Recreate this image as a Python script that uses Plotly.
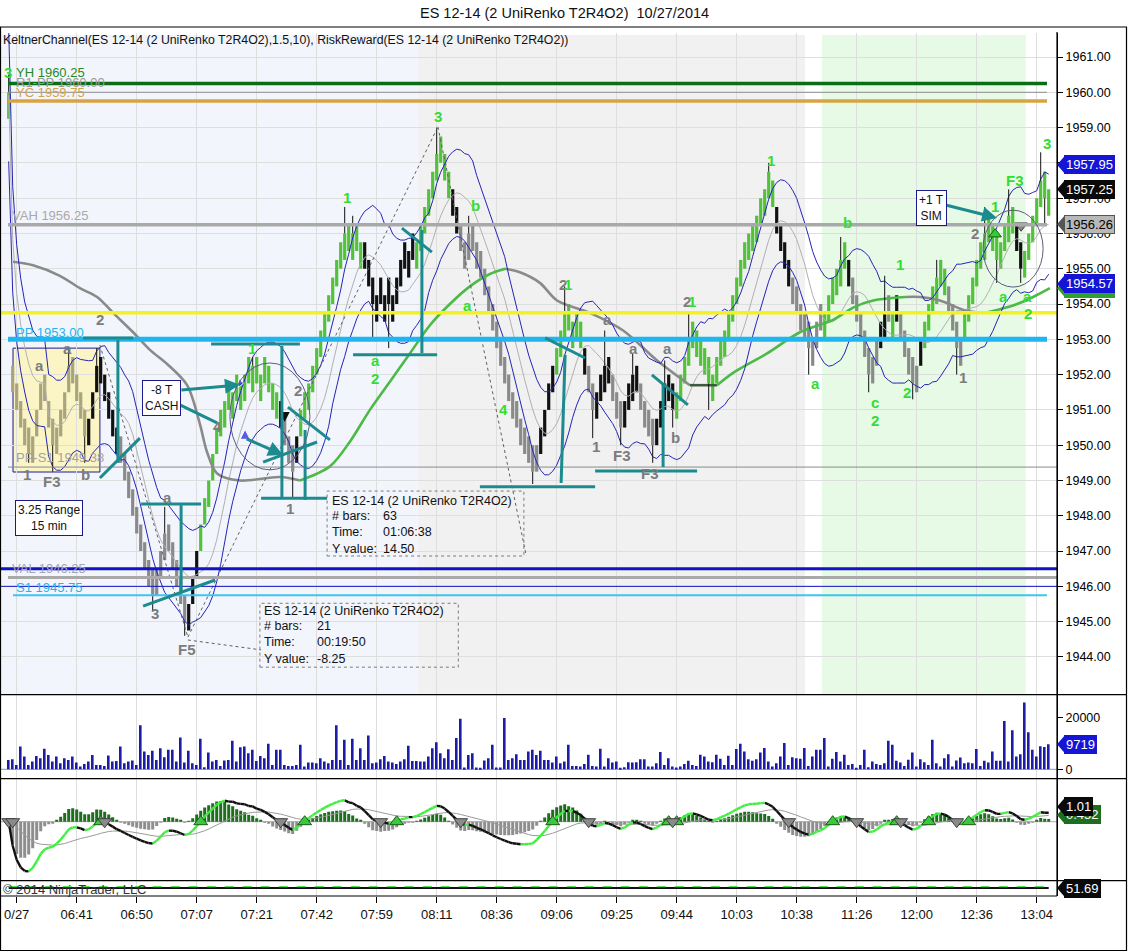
import numpy as np
import pandas as pd
import plotly.graph_objects as go

# ======================= DATA =======================
closes = [
    1960.0,
    1951.5, 1951.0, 1950.5, 1950.0, 1949.75, 1950.25, 1951.0, 1951.75, 1951.25, 1950.5, 1950.0,
    1950.5, 1951.0, 1951.5, 1952.25, 1951.75, 1951.25, 1950.75, 1950.25, 1950.75, 1951.5, 1952.25,
    1951.75, 1951.25, 1950.75, 1950.25, 1949.75,
    1949.5, 1949.0, 1948.5, 1948.0, 1947.5, 1947.0, 1946.5, 1946.0, 1945.75, 1946.5, 1947.0,
    1947.5, 1947.0, 1946.5, 1946.0, 1945.5, 1945.0,
    1945.5, 1946.25, 1947.0, 1947.75, 1948.5, 1949.0, 1949.75, 1950.5, 1951.0,
    1951.25, 1951.0, 1951.5, 1951.25, 1951.75, 1952.0, 1951.75, 1952.25, 1951.75, 1952.0, 1951.75,
    1951.5, 1951.0, 1950.75,
    1950.5, 1950.0, 1949.5, 1949.25, 1950.25,
    1951.0, 1951.5, 1951.75, 1952.25, 1952.75, 1953.25, 1953.75, 1954.25, 1954.75, 1955.25, 1955.75,
    1956.0, 1955.5, 1956.0, 1955.5, 1955.75,
    1955.0, 1954.5, 1954.0, 1954.25, 1954.0, 1954.25, 1954.0, 1954.25, 1954.75, 1955.25, 1955.0,
    1955.5, 1955.25,
    1955.75, 1956.25, 1956.75, 1957.25, 1957.75, 1958.25, 1958.0, 1957.5, 1957.0,
    1956.5, 1956.0,
    1955.5, 1955.75, 1956.0, 1955.5, 1955.0, 1954.75, 1954.25, 1953.75, 1953.25, 1952.75, 1952.25,
    1951.75, 1951.25, 1950.75, 1950.5, 1950.0, 1949.75, 1949.5, 1949.25, 1950.0,
    1950.5, 1951.0, 1951.75, 1952.25,
    1952.75, 1953.25, 1953.75, 1953.25, 1953.5, 1953.0, 1952.75,
    1952.0,
    1951.5, 1951.0,
    1951.5, 1952.0, 1952.25, 1951.75,
    1951.25, 1950.75, 1950.5,
    1951.25, 1951.75, 1952.0, 1951.5,
    1951.0, 1950.5, 1950.25, 1950.0,
    1950.75, 1951.25, 1951.75, 1951.25, 1951.0,
    1951.5, 1952.0, 1952.5, 1953.0, 1952.75, 1952.5, 1952.25, 1952.0, 1951.75, 1952.0, 1952.5,
    1953.0, 1953.25, 1953.75, 1954.25, 1954.75, 1955.25, 1955.75, 1956.0, 1956.25, 1956.5, 1957.0,
    1957.25, 1957.0, 1956.75,
    1956.0, 1955.5, 1955.0, 1954.5,
    1954.0, 1953.75, 1953.25, 1953.0, 1952.75, 1953.0, 1953.5, 1953.25,
    1953.75, 1954.25, 1954.75, 1955.0, 1955.25, 1955.0,
    1954.5,
    1954.0, 1953.5, 1953.0, 1952.5, 1952.0, 1952.5, 1953.0,
    1953.5, 1953.75,
    1953.5,
    1953.75,
    1953.5,
    1953.0, 1952.5, 1952.0, 1951.75, 1952.25,
    1953.0,
    1953.5, 1954.0, 1954.5, 1954.75, 1954.5, 1954.25,
    1953.75, 1953.25, 1952.75, 1953.0,
    1953.75, 1954.25, 1954.75, 1955.25, 1955.75, 1956.0, 1955.75, 1955.5, 1955.25, 1955.75, 1956.25,
    1956.5, 1956.0,
    1955.5, 1955.0,
    1955.5, 1956.0, 1956.5, 1957.0, 1957.5, 1957.0, 1957.25,
]

# paint-bar state of each bar, as runs: g=green, o=olive (inside range box), k=black, s=gray
bar_state_runs = [
    ("g", 1), ("o", 19), ("k", 8), ("s", 17), ("k", 3), ("g", 20), ("k", 1), ("s", 3), ("k", 1),
    ("g", 16), ("k", 13), ("g", 9), ("k", 2), ("s", 20), ("k", 4), ("g", 7), ("k", 1), ("s", 2),
    ("k", 4), ("s", 3), ("k", 4), ("s", 4), ("k", 5), ("g", 25), ("k", 4), ("s", 8), ("g", 6),
    ("k", 1), ("s", 7), ("k", 2), ("s", 1), ("g", 1), ("k", 1), ("s", 5), ("k", 1), ("g", 6),
    ("s", 4), ("g", 13), ("k", 2), ("g", 7),
]

wick_high = {0: 1960.5, 15: 1952.75, 22: 1952.75, 39: 1948.25, 61: 1952.5, 84: 1956.75, 86: 1956.5,
             107: 1959.0, 115: 1956.5, 139: 1954.5, 149: 1953.25, 156: 1952.6, 164: 1952.4,
             170: 1953.8, 190: 1958.0, 208: 1955.9, 219: 1954.8, 232: 1955.25, 244: 1956.75,
             250: 1957.25, 258: 1958.3}
wick_low = {5: 1949.5, 11: 1949.25, 19: 1949.5, 36: 1945.3, 44: 1944.6, 71: 1948.5, 91: 1953.0,
            95: 1952.75, 131: 1948.9, 146: 1950.2, 153: 1950.0, 161: 1949.5, 166: 1950.5,
            175: 1951.0, 200: 1952.0, 215: 1951.5, 226: 1951.3, 237: 1952.0, 247: 1954.6,
            253: 1954.6, 259: 1956.25}

volumes = [
    3640, 3900, 1690, 8840, 4940, 1690, 2990, 5200, 4290, 7930,
    5590, 2990, 4940, 2340, 4290, 3640, 4940, 2600, 1040, 2080,
    2990, 5590, 1690, 1690, 1300, 5330, 2990, 3250, 8840, 2340,
    2990, 3380, 1690, 17030, 6890, 5590, 7150, 3640, 8190, 4680,
    7540, 7540, 2990, 12350, 2600, 7150, 2340, 1690, 11830, 780,
    6500, 2990, 3640, 1300, 3380, 3640, 11050, 2990, 8580, 8840,
    6240, 7540, 3250, 5200, 4290, 9880, 1690, 7540, 7540, 1690,
    1300, 1300, 1690, 9490, 1040, 2600, 2600, 2340, 4290, 2990,
    2340, 3640, 17030, 3640, 11440, 1690, 11830, 3640, 8190, 3640,
    13130, 2340, 2600, 3900, 5200, 2990, 2600, 2080, 2990, 3900,
    9100, 3250, 3250, 2990, 2990, 4940, 8190, 10530, 6240, 4290,
    7800, 3640, 12090, 19630, 650, 5590, 6240, 650, 390, 3380,
    4290, 9490, 650, 650, 19890, 3640, 4290, 5850, 3640, 3640,
    6890, 7540, 5590, 7150, 3640, 3640, 2600,
    4970, 2350, 3010, 9540, 1310, 1310, 1050, 2090, 5620, 1310,
    1050, 7970, 1050, 4310, 2610, 3010, 390, 780, 2740, 2610,
    2740, 3920, 3920, 1050, 1050, 2350, 6670, 1700, 4310, 1050,
    650, 1050, 2090, 3270, 1700, 1310, 5620, 4970, 3010, 2740,
    5620, 4050, 1700, 5230, 1700, 7840, 9930, 6930, 3920, 3270,
    3920, 6540, 8230, 3010, 1050, 2350, 4970, 10190, 1700, 4710,
    4310, 4050, 8230, 1310, 4970, 7580, 7580, 12160, 1050, 4050,
    6670, 3010, 5620, 1700, 2090, 390, 1700, 7580, 780, 3010,
    2090, 1700, 2350, 11110, 9540, 3270, 2610, 1310, 3660, 6540,
    1050, 3920, 2740, 1700, 11500, 2350, 1050, 4310, 5880, 1050,
    3400, 4570, 2350, 2610, 2350, 7840, 1310, 3270, 2610, 6930,
    3270, 3270, 18690, 3010, 15160, 4970, 5880, 25880, 14380, 7580,
    4970, 8890, 8630, 9719,
]

time_labels = ["0/27", "06:41", "06:50", "07:07", "07:21", "07:42", "07:59", "08:11", "08:36",
               "09:06", "09:25", "09:44", "10:03", "10:38", "11:26", "12:00", "12:36", "13:04"]
time_tick_bars = [2, 17, 32, 47, 62, 77, 92, 107, 122, 137, 152, 167, 182, 197, 212, 227, 242, 257]
price_ticks = [1944, 1945, 1946, 1947, 1948, 1949, 1950, 1951, 1952, 1953, 1954, 1955, 1956, 1957,
               1958, 1959, 1960, 1961]
volume_ticks = [0, 20000]

# slow moving average (drawn as coloured segments)
ma_gray_1 = ([1.1, 6.1, 12.8, 17.8, 22.1, 26.1, 31.1, 35.3, 39.6, 44.6, 47.8, 49.6, 52.1, 57.8, 67.8, 72.8],
             [1955.2, 1955.1, 1954.8, 1954.45, 1954.2, 1953.75, 1953.2, 1952.7, 1952.3, 1951.7, 1950.6,
              1949.8, 1949.2, 1949.0, 1949.1, 1949.0])
ma_green_1 = ([72.8, 80.3, 85.3, 90.3, 95.3, 100.3, 105.3, 110.3, 115.3, 120.3, 124.1],
              [1949.0, 1949.4, 1950.1, 1951.0, 1951.8, 1952.6, 1953.4, 1954.0, 1954.5, 1954.85, 1955.0])
ma_gray_2 = ([124.1, 127.8, 132.8, 137.1, 145.3, 153.6, 162.1, 170.3],
             [1955.0, 1954.9, 1954.6, 1954.1, 1953.75, 1953.25, 1952.4, 1951.7])
ma_dark = ([170.3, 177.1], [1951.7, 1951.7])
ma_green_2 = ([177.1, 181.1, 189.6, 197.8, 206.1, 211.1, 216.1, 224.1],
              [1951.7, 1952.05, 1952.6, 1953.2, 1953.55, 1953.9, 1954.1, 1954.2])
ma_gray_3 = ([224.1, 227.8, 232.8, 239.6, 244.1], [1954.2, 1954.2, 1954.1, 1953.8, 1953.75])
ma_green_3 = ([244.1, 247.8, 252.1, 256.1, 260.3], [1953.75, 1953.85, 1954.0, 1954.2, 1954.45])

level_values = [1960.25, 1960.00, 1959.75, 1956.25, 1953.75, 1953.00, 1949.38, 1946.50, 1946.25,
                1946.00, 1945.75]
level_names = ["YH 1960.25", "R1-PP 1960.00", "YC 1959.75", "VAH 1956.25", "", "PP 1953.00",
               "PP-S1 1949.38", "", "VAL 1946.25", "", "S1 1945.75"]

# right-edge value tags
price_tags = [(1954.45, "1954.45"), (1954.57, "1954.57"), (1956.26, "1956.26"), (1957.25, "1957.25"),
              (1957.95, "1957.95")]
volume_tag = 9719
osc_tags = [(0.452, "0.452"), (1.01, "1.01")]
bottom_value = 51.69

# wave-count labels: (text, bar, price, colour group)
wave_labels = [
    ("3", -0.2, 1960.55, "g"), ("1", 60.8, 1952.73, "g"), ("1", 84.6, 1957.03, "g"),
    ("a", 91.6, 1952.39, "g"), ("2", 91.6, 1951.9, "g"), ("3", 107.3, 1959.3, "g"),
    ("b", 116.8, 1956.78, "g"), ("a", 114.6, 1953.97, "g"), ("4", 123.6, 1951.0, "g"),
    ("1", 190.6, 1958.08, "g"), ("b", 209.8, 1956.32, "g"), ("a", 201.6, 1951.76, "g"),
    ("c", 216.6, 1951.2, "g"), ("2", 216.6, 1950.7, "g"), ("1", 222.8, 1955.11, "g"),
    ("2", 224.6, 1951.48, "g"), ("1", 246.6, 1956.75, "g"), ("F3", 251.6, 1957.51, "g"),
    ("3", 259.6, 1958.56, "g"), ("a", 248.6, 1954.2, "g"), ("a", 254.8, 1954.2, "g"),
    ("2", 254.8, 1953.72, "g"),
    ("2", 22.8, 1953.55, "s"), ("a", 7.6, 1952.27, "s"), ("a", 14.8, 1952.75, "s"),
    ("1", 4.6, 1949.16, "s"), ("F3", 10.8, 1948.96, "s"), ("b", 19.1, 1949.18, "s"),
    ("3", 36.6, 1945.22, "s"), ("a", 39.6, 1948.53, "s"), ("F5", 44.6, 1944.2, "s"),
    ("4", 52.3, 1950.52, "s"), ("2", 72.3, 1951.56, "s"), ("1", 70.3, 1948.22, "s"),
    ("2", 138.6, 1954.54, "s"), ("a", 149.6, 1953.55, "s"), ("1", 146.8, 1949.95, "s"),
    ("F3", 153.3, 1949.72, "s"), ("a", 156.3, 1952.75, "s"), ("F3", 160.3, 1949.21, "s"),
    ("a", 164.8, 1952.75, "s"), ("b", 166.8, 1950.23, "s"), ("2", 169.6, 1954.06, "s"),
    ("1", 238.6, 1951.93, "s"), ("2", 241.6, 1956.01, "s"),
    ("1", 139.9, 1954.54, "g"), ("1", 170.7, 1954.06, "g"),
]

# hand-drawn teal objects (bar, price)
teal_segments = [
    (18.6, 1953.04, 31.1, 1953.04), (27.3, 1952.98, 27.3, 1949.5), (22.8, 1949.07, 32.8, 1950.2),
    (33.1, 1948.33, 48.1, 1948.33), (43.1, 1948.3, 43.1, 1945.84), (33.6, 1945.44, 51.6, 1946.18),
    (50.6, 1952.87, 72.8, 1952.87), (68.3, 1952.81, 68.3, 1948.5), (63.1, 1948.5, 79.6, 1948.5),
    (74.1, 1950.43, 74.1, 1948.45), (69.8, 1951.08, 80.3, 1950.15), (63.6, 1949.52, 77.1, 1950.09),
    (42.8, 1951.14, 52.1, 1950.63), (86.1, 1952.56, 107.1, 1952.56), (103.3, 1956.1, 103.3, 1952.61),
    (98.3, 1956.15, 105.8, 1955.47), (117.8, 1948.82, 146.6, 1948.82), (139.1, 1952.56, 138.1, 1948.93),
    (134.1, 1953.04, 144.1, 1952.47), (146.6, 1949.27, 172.1, 1949.27), (163.6, 1951.76, 163.6, 1949.38),
    (160.8, 1951.99, 169.8, 1951.14),
]
teal_arrows = [(42.8, 1951.56, 57.8, 1951.71), (59.1, 1950.2, 68.6, 1949.72),
               (234.1, 1956.81, 247.1, 1956.44)]
rr_lines = [(22.8, 1952.84, 44.8, 1944.56), (44.8, 1944.56, 107.3, 1959.02),
            (107.3, 1959.02, 129.4, 1946.86), (44.8, 1944.48, 63.1, 1944.2)]
ellipses = [(55.3, 1952.33, 75.3, 1949.3), (243.6, 1956.66, 258.6, 1954.48)]

# ======================= STYLE / GEOMETRY =======================
W, H = 1128, 952
FONT = "Liberation Sans, Arial, sans-serif"
BODY = 0.75
X_RIGHT_PX = 1057
MAIN_PX, VOL_PX, OSC_PX, BOT_PX = (33, 694.7), (694.7, 778.7), (778.7, 880.7), (880.7, 896)
STATE_COL = {"g": "#52c23a", "o": "#a9a47c", "k": "#111111", "s": "#8a8a8a"}
TEAL = "#1c8b8f"
GRID = "#dedede"
LEVEL_STYLE = [("#0b6e16", 3.5, 8, 1047), ("#8f8f8f", 1, 8, 1047), ("#d8a443", 3.5, 8, 1047),
               ("#a9a9a9", 3.5, 8, 1047), ("#f4f21e", 3.5, 0, 1057), ("#1fb6ef", 5, 8, 1047),
               ("#8a8a8a", 1, 8, 1057), ("#1212c6", 3, 0, 1057), ("#a9a9a9", 3, 8, 1057),
               ("#1212c6", 1, 0, 1057), ("#3cc4f2", 2, 13, 1047)]
LEVEL_TEXT = [("#248a24", 1960.55, 1.3), ("#9a9a9a", 1960.27, 1.3), ("#d3a447", 1960.0, 1.3),
              ("#a9a9a9", 1956.5, 0.3), None, ("#22b5ee", 1953.2, 1.3), ("#a2a2a2", 1949.64, 1.3),
              None, ("#a4a4b4", 1946.52, 0.3), None, ("#22b5ee", 1945.98, 1.3)]


def pxx(x):
    return x / W


def pxy(y):
    return 1 - y / H


def dom(p):
    return [pxy(p[1]), pxy(p[0])]


# ---------- derived bar geometry ----------
N = len(closes)
idx = np.arange(N)
states = [s for s, n in bar_state_runs for _ in range(n)]
opens = []
for i, c in enumerate(closes):
    prev = closes[i - 1] if i else c - BODY
    opens.append(c - BODY if c >= prev else c + BODY)
body_lo = [min(o, c) for o, c in zip(opens, closes)]
body_hi = [max(o, c) for o, c in zip(opens, closes)]
highs = [wick_high.get(i, body_hi[i]) for i in range(N)]
lows = [wick_low.get(i, body_lo[i]) for i in range(N)]

# Keltner channel (10, 1.5)
s_h, s_l, s_c = pd.Series(highs), pd.Series(lows), pd.Series(closes)
typical = (s_h + s_l + s_c) / 3
k_mid = typical.rolling(10, min_periods=1).mean()
k_off = 1.5 * (s_h - s_l).rolling(10, min_periods=1).mean()
k_up, k_lo = k_mid + k_off, k_mid - k_off

# MACD-style oscillator
macd = s_c.ewm(span=5, adjust=False).mean() - s_c.ewm(span=13, adjust=False).mean()
signal = macd.ewm(span=20, adjust=False).mean()
hist = macd - signal

fig = go.Figure()

# ---------------- main price panel ----------------
fig.add_trace(go.Scatter(x=idx, y=k_mid, mode="lines", line=dict(color="#b0b0b0", width=1),
                         hoverinfo="skip", showlegend=False))
for seg, col in [(ma_gray_1, "#8a8a8a"), (ma_green_1, "#4cba46"), (ma_gray_2, "#8a8a8a"),
                 (ma_dark, "#3c5a3c"), (ma_green_2, "#4cba46"), (ma_gray_3, "#8a8a8a"),
                 (ma_green_3, "#4cba46")]:
    fig.add_trace(go.Scatter(x=seg[0], y=seg[1], mode="lines",
                             line=dict(color=col, width=2.6, shape="spline", smoothing=0.9),
                             hoverinfo="skip", showlegend=False))
fig.add_trace(go.Scatter(x=idx, y=k_up, mode="lines", line=dict(color="#2424b8", width=1),
                         hoverinfo="skip", showlegend=False))
fig.add_trace(go.Scatter(x=idx, y=k_lo, mode="lines", line=dict(color="#2424b8", width=1),
                         hoverinfo="skip", showlegend=False))

fig.add_trace(go.Bar(x=idx, y=[h - l for h, l in zip(body_hi, body_lo)], base=body_lo,
                     marker=dict(color=[STATE_COL[s] for s in states], line=dict(width=0)),
                     width=0.8, hoverinfo="skip", showlegend=False))
wx, wy = [], []
for i in range(N):
    if highs[i] > body_hi[i]:
        wx += [i, i, None]
        wy += [body_hi[i], highs[i], None]
    if lows[i] < body_lo[i]:
        wx += [i, i, None]
        wy += [lows[i], body_lo[i], None]
fig.add_trace(go.Scatter(x=wx, y=wy, mode="lines", line=dict(color="#111111", width=1),
                         hoverinfo="skip", showlegend=False))

# risk/reward dashed lines
for x0, y0, x1, y1 in rr_lines:
    fig.add_trace(go.Scatter(x=[x0, x1], y=[y0, y1], mode="lines",
                             line=dict(color="#606060", width=1, dash="dot"),
                             hoverinfo="skip", showlegend=False))

# small markers on chart
fig.add_trace(go.Scatter(x=[246.6], y=[1955.98], mode="markers",
                         marker=dict(symbol="triangle-up", size=11, color="#33cc33",
                                     line=dict(color="#1a5e1a", width=1)),
                         hoverinfo="skip", showlegend=False))
fig.add_trace(go.Scatter(x=[253.1], y=[1956.22], mode="markers",
                         marker=dict(symbol="triangle-down", size=11, color="#8a8a8a",
                                     line=dict(color="#404040", width=1)),
                         hoverinfo="skip", showlegend=False))
fig.add_trace(go.Scatter(x=[57.9, 59.1], y=[1951.76, 1950.45], mode="markers",
                         marker=dict(symbol=["triangle-right", "arrow-up"], size=[7, 10],
                                     color="#1a1ae0"),
                         hoverinfo="skip", showlegend=False))
fig.add_trace(go.Scatter(x=[69.0], y=[1950.66], mode="markers",
                         marker=dict(symbol="arrow-down", size=10, color="#111111"),
                         hoverinfo="skip", showlegend=False))

# ---------------- volume panel ----------------
fig.add_trace(go.Bar(x=idx, y=volumes, xaxis="x2", yaxis="y2", width=0.45,
                     marker=dict(color="#1c1ca6", line=dict(width=0)), hoverinfo="skip",
                     showlegend=False))

# ---------------- oscillator panel ----------------
fig.add_trace(go.Bar(x=idx, y=hist, xaxis="x3", yaxis="y3", width=0.75,
                     marker=dict(color=["#1f6e1f" if v >= 0 else "#8e8e8e" for v in hist],
                                 line=dict(width=0)),
                     hoverinfo="skip", showlegend=False))
fig.add_trace(go.Scatter(x=idx, y=signal, xaxis="x3", yaxis="y3", mode="lines",
                         line=dict(color="#9a9a9a", width=1), hoverinfo="skip", showlegend=False))
gx, gy, kx, ky = [], [], [], []
for i in range(N - 1):
    if macd[i + 1] >= macd[i]:
        gx += [i, i + 1, None]
        gy += [macd[i], macd[i + 1], None]
    else:
        kx += [i, i + 1, None]
        ky += [macd[i], macd[i + 1], None]
fig.add_trace(go.Scatter(x=kx, y=ky, xaxis="x3", yaxis="y3", mode="lines",
                         line=dict(color="#111111", width=2.4), hoverinfo="skip", showlegend=False))
fig.add_trace(go.Scatter(x=gx, y=gy, xaxis="x3", yaxis="y3", mode="lines",
                         line=dict(color="#3ff03f", width=2.4), hoverinfo="skip", showlegend=False))
up_x = [i for i in range(1, N) if macd[i - 1] < 0 <= macd[i]]
dn_x = [0] + [i for i in range(1, N) if macd[i - 1] >= 0 > macd[i]]
fig.add_trace(go.Scatter(x=up_x, y=[0] * len(up_x), xaxis="x3", yaxis="y3", mode="markers",
                         marker=dict(symbol="triangle-up", size=12, color="#3cc83c",
                                     line=dict(color="#1a5e1a", width=1)),
                         hoverinfo="skip", showlegend=False))
fig.add_trace(go.Scatter(x=dn_x, y=[0] * len(dn_x), xaxis="x3", yaxis="y3", mode="markers",
                         marker=dict(symbol="triangle-down", size=12, color="#8a8a8a",
                                     line=dict(color="#404040", width=1)),
                         hoverinfo="skip", showlegend=False))

# ---------------- bottom indicator panel ----------------
fig.add_trace(go.Scatter(x=[0, N - 1], y=[bottom_value, bottom_value], xaxis="x4", yaxis="y4",
                         mode="lines", line=dict(color="#111111", width=2), hoverinfo="skip",
                         showlegend=False))
fig.add_trace(go.Scatter(x=[0, N - 1], y=[bottom_value + 10, bottom_value + 10], xaxis="x4",
                         yaxis="y4", mode="lines", line=dict(color="#55dd55", width=1.2, dash="dash"),
                         hoverinfo="skip", showlegend=False))

# ---------------- axes ----------------
XR = [-8.7 / 4, (X_RIGHT_PX - 8.7) / 4]
XD = [0, X_RIGHT_PX / W]
base_x = dict(domain=XD, range=XR, tickvals=time_tick_bars, showgrid=True, gridcolor=GRID,
              gridwidth=1, zeroline=False, showline=False, ticks="", showticklabels=False,
              fixedrange=True)
vol_top = (769.3 - VOL_PX[0]) / 51.6 * 20000
vol_bot = -(VOL_PX[1] - 769.3) / 51.6 * 20000
osc_top = (821.7 - OSC_PX[0]) / 14.85
osc_bot = -(OSC_PX[1] - 821.7) / 14.85
p_top = 1961 + (57 - MAIN_PX[0]) / 35.29
p_bot = 1961 - (MAIN_PX[1] - 57) / 35.29

fig.update_layout(
    width=W, height=H, margin=dict(l=0, r=0, t=0, b=0), paper_bgcolor="white",
    plot_bgcolor="rgba(0,0,0,0)", barmode="overlay", showlegend=False,
    font=dict(family=FONT, size=12, color="black"),
    xaxis=dict(base_x, anchor="y"),
    xaxis2=dict(base_x, anchor="y2", matches="x"),
    xaxis3=dict(base_x, anchor="y3", matches="x"),
    xaxis4=dict(base_x, anchor="y4", matches="x", showticklabels=True, ticks="outside", ticklen=6,
                tickcolor="black", ticktext=time_labels, tickfont=dict(size=13, color="#111111")),
    yaxis=dict(domain=dom(MAIN_PX), range=[p_bot, p_top], side="right", anchor="x",
               tickvals=price_ticks, ticktext=[f"{v:.2f}" for v in price_ticks],
               showgrid=True, gridcolor=GRID, zeroline=False, showline=True, linecolor="black",
               ticks="outside", ticklen=5, tickcolor="black", tickfont=dict(size=12.5)),
    yaxis2=dict(domain=dom(VOL_PX), range=[vol_bot, vol_top], side="right", anchor="x2",
                tickvals=volume_ticks, ticktext=[str(v) for v in volume_ticks], showgrid=False,
                zeroline=False, showline=True, linecolor="black", ticks="outside", ticklen=5,
                tickcolor="black", tickfont=dict(size=12.5)),
    yaxis3=dict(domain=dom(OSC_PX), range=[osc_bot, osc_top], side="right", anchor="x3",
                showticklabels=False, showgrid=False, zeroline=False, showline=True,
                linecolor="black", ticks=""),
    yaxis4=dict(domain=dom(BOT_PX), range=[0, 100], side="right", anchor="x4",
                showticklabels=False, showgrid=False, zeroline=False, showline=True,
                linecolor="black", ticks=""),
)

shapes = []
# background session shading
for x0, x1, col in [(-2.175, 102.3, "#f3f5fc"), (102.3, 199.1, "#f1f1f1"), (203.3, 254.25, "#e6fae6")]:
    shapes.append(dict(type="rect", xref="x", yref="paper", x0=x0, x1=x1, y0=pxy(MAIN_PX[1]),
                       y1=pxy(MAIN_PX[0] + 2), fillcolor=col, line=dict(width=0), layer="below"))
# 3.25 range box
shapes.append(dict(type="rect", xref="x", yref="y", x0=1.08, x1=22.8, y0=1949.24, y1=1952.75,
                   fillcolor="#fbf5c6", line=dict(color="#1a1a8c", width=1), layer="below"))
# price levels
for v, (col, wdt, xa, xb) in zip(level_values, LEVEL_STYLE):
    shapes.append(dict(type="line", xref="paper", yref="y", x0=pxx(xa), x1=pxx(xb), y0=v, y1=v,
                       line=dict(color=col, width=wdt), layer="above"))
# teal drawings
for x0, y0, x1, y1 in teal_segments:
    shapes.append(dict(type="line", xref="x", yref="y", x0=x0, y0=y0, x1=x1, y1=y1,
                       line=dict(color=TEAL, width=3), layer="above"))
for x0, y0, x1, y1 in ellipses:
    shapes.append(dict(type="circle", xref="x", yref="y", x0=x0, y0=y0, x1=x1, y1=y1,
                       line=dict(color="#5c5c7a", width=1), layer="above"))
# info boxes (dashed)
for x0, x1, y0, y1 in [(79.6, 128.8, 1946.86, 1948.70), (62.8, 112.4, 1943.71, 1945.52)]:
    shapes.append(dict(type="rect", xref="x", yref="y", x0=x0, x1=x1, y0=y0, y1=y1,
                       line=dict(color="#7a7a7a", width=1, dash="dot"), layer="above"))
# zero lines of lower panels
shapes.append(dict(type="line", xref="paper", yref="y2", x0=0, x1=pxx(X_RIGHT_PX), y0=0, y1=0,
                   line=dict(color="#8c8cf0", width=1), layer="below"))
shapes.append(dict(type="line", xref="paper", yref="y3", x0=0, x1=pxx(X_RIGHT_PX), y0=0, y1=0,
                   line=dict(color="#a8a8a8", width=1), layer="below"))
# frame and panel separators
shapes.append(dict(type="rect", xref="paper", yref="paper", x0=pxx(0.5), x1=pxx(1126.5),
                   y0=pxy(950.5), y1=pxy(27), line=dict(color="black", width=1.2)))
for yy, xe in [(MAIN_PX[1], 1127), (VOL_PX[1], 1127), (OSC_PX[1], 1127), (BOT_PX[1], X_RIGHT_PX)]:
    shapes.append(dict(type="line", xref="paper", yref="paper", x0=0, x1=pxx(xe), y0=pxy(yy),
                       y1=pxy(yy), line=dict(color="black", width=1.2)))
shapes.append(dict(type="line", xref="paper", yref="paper", x0=pxx(X_RIGHT_PX), x1=pxx(X_RIGHT_PX),
                   y0=pxy(896), y1=pxy(32), line=dict(color="black", width=1.2)))

annotations = []


def tag(yref, v, hh, bg, fg, text, border=None):
    a, b = pxx(X_RIGHT_PX), pxx(X_RIGHT_PX + 7)
    shapes.append(dict(type="path", xref="paper", yref=yref,
                       path=f"M {a},{v} L {b},{v + hh} L {b},{v - hh} Z",
                       fillcolor=border or bg, line=dict(width=0), layer="above"))
    annotations.append(dict(x=b, y=v, xref="paper", yref=yref, text=text, showarrow=False,
                            xanchor="left", yanchor="middle", bgcolor=bg,
                            bordercolor=border or bg, borderwidth=1, borderpad=1,
                            font=dict(size=13, color=fg, family=FONT)))


tag_colors = {"1954.45": ("#2fa02f", "#0b2a0b"), "1954.57": ("#1515d6", "white"),
              "1956.26": ("#b8b8b8", "black"), "1957.25": ("#0a0a0a", "white"),
              "1957.95": ("#1515d6", "white")}
for v, t in price_tags:
    bg, fg = tag_colors[t]
    tag("y", v, 8 / 35.29, bg, fg, t, "#555555" if t == "1956.26" else None)
tag("y2", volume_tag, 8 / 51.6 * 20000, "#1515d6", "white", str(volume_tag))
tag("y3", osc_tags[0][0], 8 / 14.85, "#1f6e1f", "white", osc_tags[0][1])
tag("y3", osc_tags[1][0], 8 / 14.85, "#0a0a0a", "white", osc_tags[1][1])
tag("y4", bottom_value, 8 / 15.3 * 100, "#0a0a0a", "white", f"{bottom_value:.2f}")

# title and header texts
annotations.append(dict(x=0.5, y=pxy(13), xref="paper", yref="paper", showarrow=False,
                        xanchor="center", yanchor="middle",
                        text="ES 12-14 (2 UniRenko T2R4O2)\u00a0\u00a010/27/2014",
                        font=dict(size=14.5, color="#111111")))
annotations.append(dict(x=pxx(1), y=pxy(40), xref="paper", yref="paper", showarrow=False,
                        xanchor="left", yanchor="middle",
                        text="KeltnerChannel(ES 12-14 (2 UniRenko T2R4O2),1.5,10), RiskReward(ES 12-14 (2 UniRenko T2R4O2))",
                        font=dict(size=12.3, color="#111111")))
annotations.append(dict(x=pxx(1), y=pxy(889), xref="paper", yref="paper", showarrow=False,
                        xanchor="left", yanchor="middle", text="\u00a9 2014 NinjaTrader, LLC",
                        font=dict(size=13, color="#333333")))

# level labels
for name, st in zip(level_names, LEVEL_TEXT):
    if st is None:
        continue
    col, yv, xv = st
    annotations.append(dict(x=xv, y=yv, xref="x", yref="y", text=name, showarrow=False,
                            xanchor="left", yanchor="middle", font=dict(size=13, color=col)))

# wave labels
for text, xv, yv, grp in wave_labels:
    annotations.append(dict(x=xv, y=yv, xref="x", yref="y", text=f"<b>{text}</b>", showarrow=False,
                            xanchor="center", yanchor="middle",
                            font=dict(size=15, color="#33dd33" if grp == "g" else "#7c7c7c")))

# teal arrows
for x0, y0, x1, y1 in teal_arrows:
    annotations.append(dict(x=x1, y=y1, ax=x0, ay=y0, xref="x", yref="y", axref="x", ayref="y",
                            text="", showarrow=True, arrowhead=2, arrowsize=1, arrowwidth=3,
                            arrowcolor=TEAL))

# boxed notes
for text, xv, yv in [("-8 T<br>CASH", 38.2, 1951.34), ("+1 T<br>SIM", 230.7, 1956.72),
                     ("3.25 Range<br>15 min", 10.1, 1947.94)]:
    annotations.append(dict(x=xv, y=yv, xref="x", yref="y", text=text, showarrow=False,
                            xanchor="center", yanchor="middle",
                            bgcolor="white", bordercolor="#1a1a8c", borderwidth=1, borderpad=2,
                            font=dict(size=12, color="#111111")))

# risk/reward info boxes
info = [((80.2, 1948.43), (80.2, 1947.52), (93.1, 1947.52), "63", "01:06:38", "14.50"),
        ((63.4, 1945.30), (63.4, 1944.40), (76.6, 1944.40), "21", "00:19:50", "-8.25")]
for (tx, ty), (lx, ly), (vx, vy), bars, tm, yv in info:
    annotations.append(dict(x=tx, y=ty, xref="x", yref="y", xanchor="left", yanchor="middle",
                            showarrow=False, text="ES 12-14 (2 UniRenko T2R4O2)",
                            font=dict(size=12.5, color="#111111")))
    annotations.append(dict(x=lx, y=ly, xref="x", yref="y", xanchor="left", yanchor="middle",
                            showarrow=False, align="left", text="# bars:<br>Time:<br>Y value:",
                            font=dict(size=12.5, color="#111111")))
    annotations.append(dict(x=vx, y=vy, xref="x", yref="y", xanchor="left", yanchor="middle",
                            showarrow=False, align="left", text=f"{bars}<br>{tm}<br>{yv}",
                            font=dict(size=12.5, color="#111111")))

fig.update_layout(shapes=shapes, annotations=annotations)
fig.write_html("out.html", config={"displayModeBar": False},
               post_script="document.body.style.margin='0px';")
